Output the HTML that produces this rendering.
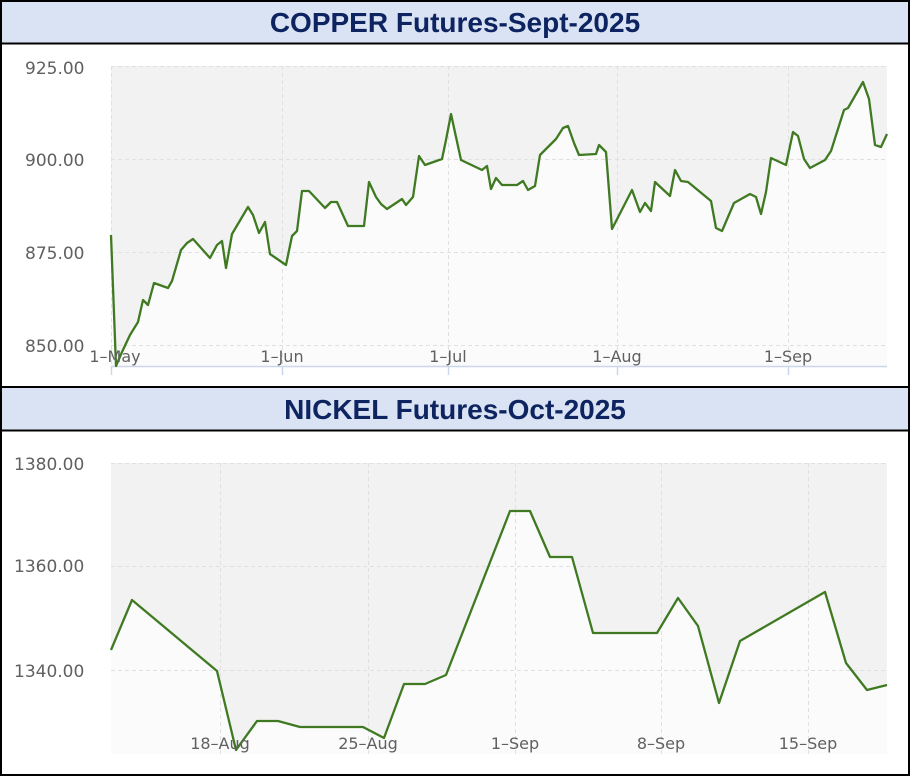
<!DOCTYPE html>
<html><head><style>
body{margin:0;background:#fff;}
svg{display:block;font-family:"DejaVu Sans","Liberation Sans",sans-serif;}
.t{font-family:"Liberation Sans",sans-serif;font-weight:bold;font-size:28px;fill:#0d2461;}
.yl{font-size:17px;fill:#606060;}
.xl{font-size:16px;fill:#606060;text-anchor:middle;}
.g{stroke:#e0e0e0;stroke-dasharray:4,3;stroke-width:1;}
</style></head><body>
<svg width="910" height="776" viewBox="0 0 910 776">
<rect x="0" y="0" width="910" height="776" fill="#fff"/>
<rect x="1" y="1" width="908" height="42" fill="#dae3f3"/>
<line x1="0" y1="43.5" x2="910" y2="43.5" stroke="#000" stroke-width="2"/>
<text class="t" x="455" y="32" text-anchor="middle">COPPER Futures-Sept-2025</text>
<rect x="111" y="66" width="776" height="300" fill="#f2f2f2"/>
<polygon fill="#fbfbfb" points="111,366 111,235 116,366 122,352 130,335 138,322 143,300 148,305 154,283 168,288 172,281 181,250 187,243 193,239 210,258 217,245 222,241 226,268 232,234 248,207 253,215 259,233 265,222 270,254 286,265 292,236 297,231 302,191 309,191 325,208 331,202 337,202 348,226 364,226 369,182 376,197 381,204 387,209 402,199 406,205 413,197 419,156 425,165 442,159 446,140 451,114 461,160 482,170 487,166 491,189 496,178 502,185 517,185 523,181 528,190 535,186 540,155 556,139 563,128 568,126 574,143 579,155 596,154 599,145 606,152 612,229 632,190 640,212 645,203 651,211 655,182 670,196 675,170 681,181 688,182 711,201 716,228 722,231 734,203 750,194 756,197 761,214 766,192 771,158 786,165 793,132 798,136 804,159 810,168 825,160 831,151 844,110 848,108 863,82 869,99 875,145 881,147 887,134 887,366"/>
<g class="g">
<line x1="111" y1="66.5" x2="887" y2="66.5"/><line x1="111" y1="159.5" x2="887" y2="159.5"/><line x1="111" y1="252.5" x2="887" y2="252.5"/><line x1="111" y1="345.5" x2="887" y2="345.5"/>
<line x1="111.5" y1="66" x2="111.5" y2="366"/><line x1="282.5" y1="66" x2="282.5" y2="366"/><line x1="448.5" y1="66" x2="448.5" y2="366"/><line x1="617.5" y1="66" x2="617.5" y2="366"/><line x1="788.5" y1="66" x2="788.5" y2="366"/>
</g>
<line x1="111" y1="366.5" x2="887" y2="366.5" stroke="#ccd6eb" stroke-width="1.5"/>
<g stroke="#ccd6eb" stroke-width="1.5"><line x1="111.5" y1="366" x2="111.5" y2="375"/><line x1="282.5" y1="366" x2="282.5" y2="375"/><line x1="448.5" y1="366" x2="448.5" y2="375"/><line x1="617.5" y1="366" x2="617.5" y2="375"/><line x1="788.5" y1="366" x2="788.5" y2="375"/></g>
<polyline fill="none" stroke="#3f7a22" stroke-width="2.3" stroke-linejoin="round" points="111,235 116,366 122,352 130,335 138,322 143,300 148,305 154,283 168,288 172,281 181,250 187,243 193,239 210,258 217,245 222,241 226,268 232,234 248,207 253,215 259,233 265,222 270,254 286,265 292,236 297,231 302,191 309,191 325,208 331,202 337,202 348,226 364,226 369,182 376,197 381,204 387,209 402,199 406,205 413,197 419,156 425,165 442,159 446,140 451,114 461,160 482,170 487,166 491,189 496,178 502,185 517,185 523,181 528,190 535,186 540,155 556,139 563,128 568,126 574,143 579,155 596,154 599,145 606,152 612,229 632,190 640,212 645,203 651,211 655,182 670,196 675,170 681,181 688,182 711,201 716,228 722,231 734,203 750,194 756,197 761,214 766,192 771,158 786,165 793,132 798,136 804,159 810,168 825,160 831,151 844,110 848,108 863,82 869,99 875,145 881,147 887,134"/>
<text class="yl" x="25" y="74">925.00</text><text class="yl" x="25" y="166">900.00</text><text class="yl" x="25" y="259">875.00</text><text class="yl" x="25" y="352">850.00</text>
<text class="xl" x="115" y="362">1–May</text><text class="xl" x="282" y="362">1–Jun</text><text class="xl" x="448" y="362">1–Jul</text><text class="xl" x="617" y="362">1–Aug</text><text class="xl" x="788" y="362">1–Sep</text>
<line x1="0" y1="387" x2="910" y2="387" stroke="#000" stroke-width="2"/>
<rect x="1" y="388" width="908" height="42" fill="#dae3f3"/>
<line x1="0" y1="430.5" x2="910" y2="430.5" stroke="#000" stroke-width="2"/>
<text class="t" x="455" y="419" text-anchor="middle">NICKEL Futures-Oct-2025</text>
<rect x="111" y="463" width="776" height="291" fill="#f2f2f2"/>
<polygon fill="#fbfbfb" points="111,754 111,650 132,600 217,671 236,750 257,721 278,721 300,727 363,727 384,738 404,684 425,684 446,675 510,511 530,511 550,557 572,557 593,633 657,633 678,598 698,626 719,703 740,641 825,592 846,663 867,690 887,685 887,754"/>
<g class="g">
<line x1="111" y1="463.5" x2="887" y2="463.5"/><line x1="111" y1="566.5" x2="887" y2="566.5"/><line x1="111" y1="670.5" x2="887" y2="670.5"/>
<line x1="220.5" y1="463" x2="220.5" y2="754"/><line x1="368.5" y1="463" x2="368.5" y2="754"/><line x1="515.5" y1="463" x2="515.5" y2="754"/><line x1="661.5" y1="463" x2="661.5" y2="754"/><line x1="808.5" y1="463" x2="808.5" y2="754"/>
</g>
<polyline fill="none" stroke="#3f7a22" stroke-width="2.3" stroke-linejoin="round" points="111,650 132,600 217,671 236,750 257,721 278,721 300,727 363,727 384,738 404,684 425,684 446,675 510,511 530,511 550,557 572,557 593,633 657,633 678,598 698,626 719,703 740,641 825,592 846,663 867,690 887,685"/>
<text class="yl" x="14" y="470">1380.00</text><text class="yl" x="14" y="572">1360.00</text><text class="yl" x="14" y="677">1340.00</text>
<text class="xl" x="220" y="749">18–Aug</text><text class="xl" x="368" y="749">25–Aug</text><text class="xl" x="515" y="749">1–Sep</text><text class="xl" x="661" y="749">8–Sep</text><text class="xl" x="808" y="749">15–Sep</text>
<rect x="1" y="1" width="908" height="774" fill="none" stroke="#000" stroke-width="2"/>
</svg>
</body></html>
